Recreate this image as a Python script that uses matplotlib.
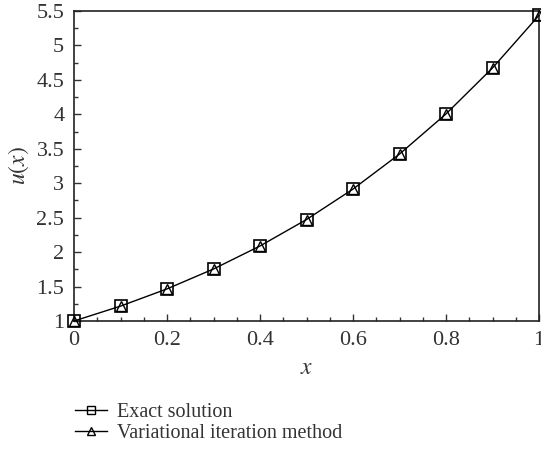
import matplotlib
matplotlib.use("Agg")
import matplotlib.pyplot as plt
from matplotlib.ticker import MultipleLocator
from matplotlib.lines import Line2D

x_vals = [0.0, 0.1, 0.2, 0.3, 0.4, 0.5, 0.6, 0.7, 0.8, 0.9, 1.0]
exact = [1.0, 1.216, 1.466, 1.755, 2.089, 2.473, 2.915, 3.423, 4.006, 4.673, 5.437]
vim = [1.0, 1.216, 1.466, 1.755, 2.089, 2.473, 2.915, 3.423, 4.006, 4.673, 5.437]

plt.rcParams['font.family'] = ['Liberation Serif', 'DejaVu Serif']
plt.rcParams['mathtext.fontset'] = 'stix'

fig = plt.figure(figsize=(5.41, 4.49), dpi=100)
ax = fig.add_axes([74/541, 1-321/449, (539-74)/541, (321-11)/449])

ax.plot(x_vals, exact, color='black', lw=1.0, marker='s', ms=8, mfc='none', mec='black', mew=1.2, clip_on=False, zorder=3)
ax.plot(x_vals, vim, color='black', lw=0, marker='^', ms=6.5, mfc='none', mec='black', mew=1.0, clip_on=False, zorder=4)

ax.set_xlim(0, 1)
ax.set_ylim(1, 5.5)
ax.xaxis.set_minor_locator(MultipleLocator(0.05))
ax.yaxis.set_minor_locator(MultipleLocator(0.25))
ax.set_xticks([0, 0.2, 0.4, 0.6, 0.8, 1.0])
ax.set_xticklabels(['0', '0.2', '0.4', '0.6', '0.8', '1'])
ax.set_yticks([1, 1.5, 2, 2.5, 3, 3.5, 4, 4.5, 5, 5.5])
ax.set_yticklabels(['1', '1.5', '2', '2.5', '3', '3.5', '4', '4.5', '5', '5.5'])
ax.tick_params(which='both', direction='in', top=False, right=False, labelsize=16, colors='#333333', labelcolor='#333333')
ax.tick_params(which='major', length=5, width=1, pad=7)
ax.tick_params(which='minor', length=3, width=1)
for s in ax.spines.values():
    s.set_linewidth(1.2)
    s.set_color('#222222')

ax.set_xlabel(r'$x$', fontsize=17, color='#333333', labelpad=6)
ax.set_ylabel(r'$u(x)$', fontsize=17, color='#333333', labelpad=4)

handles = [Line2D([], [], color='black', lw=1, marker='s', ms=6, mfc='none', mec='black'),
           Line2D([], [], color='black', lw=1, marker='^', ms=6, mfc='none', mec='black')]
fig.legend(handles, ['Exact solution', 'Variational iteration method'], loc='upper left',
           bbox_to_anchor=(57/541, 1-385/449), frameon=False, fontsize=14.5, handlelength=1.6,
           handletextpad=0.5, labelspacing=0.1, labelcolor='#333333')

fig.savefig('out.png', dpi=100)
